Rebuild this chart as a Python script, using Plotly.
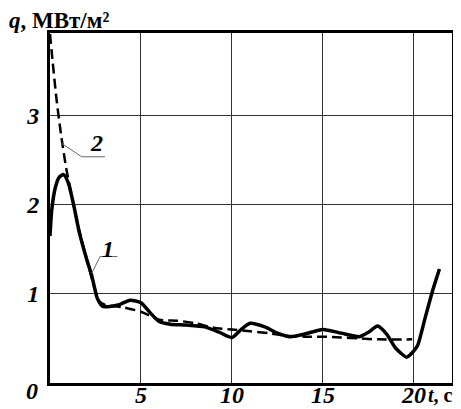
import plotly.graph_objects as go

t1 = [0.0, 0.1, 0.3, 0.5, 0.75, 1.0, 1.3, 1.6, 2.0, 2.3, 2.6, 2.9, 3.3, 3.8, 4.4, 5.0, 5.5, 6.0, 6.6,
      7.5, 8.5, 9.3, 10.0, 10.5, 11.0, 11.8, 12.5, 13.2, 14.0, 15.0, 16.0, 17.0, 17.5, 18.0, 18.5,
      19.0, 19.6, 19.95, 20.2, 20.6, 21.0, 21.4]
q1 = [1.65, 1.95, 2.2, 2.31, 2.34, 2.25, 2.0, 1.7, 1.4, 1.2, 0.95, 0.86, 0.86, 0.88, 0.93, 0.9, 0.79,
      0.69, 0.66, 0.65, 0.63, 0.57, 0.51, 0.6, 0.67, 0.63, 0.56, 0.52, 0.55, 0.6, 0.56, 0.52, 0.57,
      0.64, 0.55, 0.39, 0.29, 0.35, 0.42, 0.72, 1.02, 1.28]

t2 = [0.0, 0.15, 0.35, 0.6, 0.9, 1.2, 1.5, 2.0, 2.4, 2.7, 3.0, 4.0, 5.0, 6.0, 7.0, 8.0, 9.0, 10.0,
      11.0, 12.0, 13.0, 14.0, 15.0, 16.0, 17.0, 18.0, 19.9]
q2 = [3.92, 3.6, 3.2, 2.8, 2.4, 2.1, 1.8, 1.4, 1.1, 0.92, 0.88, 0.85, 0.8, 0.71, 0.7, 0.67, 0.62, 0.6,
      0.58, 0.56, 0.53, 0.52, 0.52, 0.51, 0.5, 0.49, 0.49]

x_ticks = [5, 10, 15, 20]
y_ticks = [1, 2, 3]

FONT = "Liberation Serif"

fig = go.Figure()
fig.add_trace(go.Scatter(x=t2, y=q2, mode="lines",
                         line=dict(color="black", width=2.5, dash="10px,5px", shape="spline", smoothing=0.6)))
fig.add_trace(go.Scatter(x=t1, y=q1, mode="lines",
                         line=dict(color="black", width=3.5, shape="spline", smoothing=0.6)))

tickfont = dict(family=FONT, size=24, color="black", weight="bold", style="italic")
fig.update_xaxes(range=[0, 22.09], tickvals=x_ticks, ticktext=[str(v) for v in x_ticks],
                 showgrid=True, gridcolor="#333333", gridwidth=1, zeroline=False,
                 showline=True, linecolor="black", linewidth=3, mirror=True,
                 ticks="", tickfont=tickfont, automargin=False, ticklabelstandoff=-12)
fig.update_yaxes(range=[0, 3.93], tickvals=y_ticks, ticktext=[str(v) for v in y_ticks],
                 showgrid=True, gridcolor="#333333", gridwidth=1, zeroline=False,
                 showline=True, linecolor="black", linewidth=3, mirror=True,
                 ticks="", tickfont=tickfont, ticklabelstandoff=3, automargin=False)

# leader lines for curve labels
lc = "#666666"
fig.add_shape(type="line", x0=0.64, y0=2.69, x1=1.74, y1=2.54, line=dict(color=lc, width=1))
fig.add_shape(type="line", x0=1.74, y0=2.54, x1=3.02, y1=2.54, line=dict(color=lc, width=1))
fig.add_shape(type="line", x0=2.29, y0=1.23, x1=2.75, y1=1.42, line=dict(color=lc, width=1))
fig.add_shape(type="line", x0=2.75, y0=1.42, x1=3.70, y1=1.42, line=dict(color=lc, width=1))

fig.add_annotation(x=2.58, y=2.69, text="2", showarrow=False, font=tickfont)
fig.add_annotation(x=3.19, y=1.51, text="1", showarrow=False, font=tickfont)

fig.add_annotation(xref="paper", yref="paper", x=-0.107, y=1.035, xanchor="left", yanchor="middle",
                   text="<i>q</i>, МВт/м²", showarrow=False,
                   font=dict(family=FONT, size=23, color="black", weight="bold"))
fig.add_annotation(xref="paper", yref="paper", x=0.938, y=0.0, xanchor="left", yanchor="top",
                   text="<i>t</i>, c", showarrow=False, borderpad=0,
                   font=dict(family=FONT, size=20, color="black", weight="bold"))
fig.add_annotation(xref="paper", yref="paper", x=-0.045, y=0.02, xanchor="center", yanchor="top",
                   text="0", showarrow=False, font=tickfont)

# page body has an 8px margin: shrink the figure so the plot lands where the reference has it
fig.update_layout(width=453, height=401, margin=dict(l=42, r=9, t=25, b=26, autoexpand=False),
                  plot_bgcolor="white", paper_bgcolor="white", showlegend=False)

fig.write_html("out.html")
